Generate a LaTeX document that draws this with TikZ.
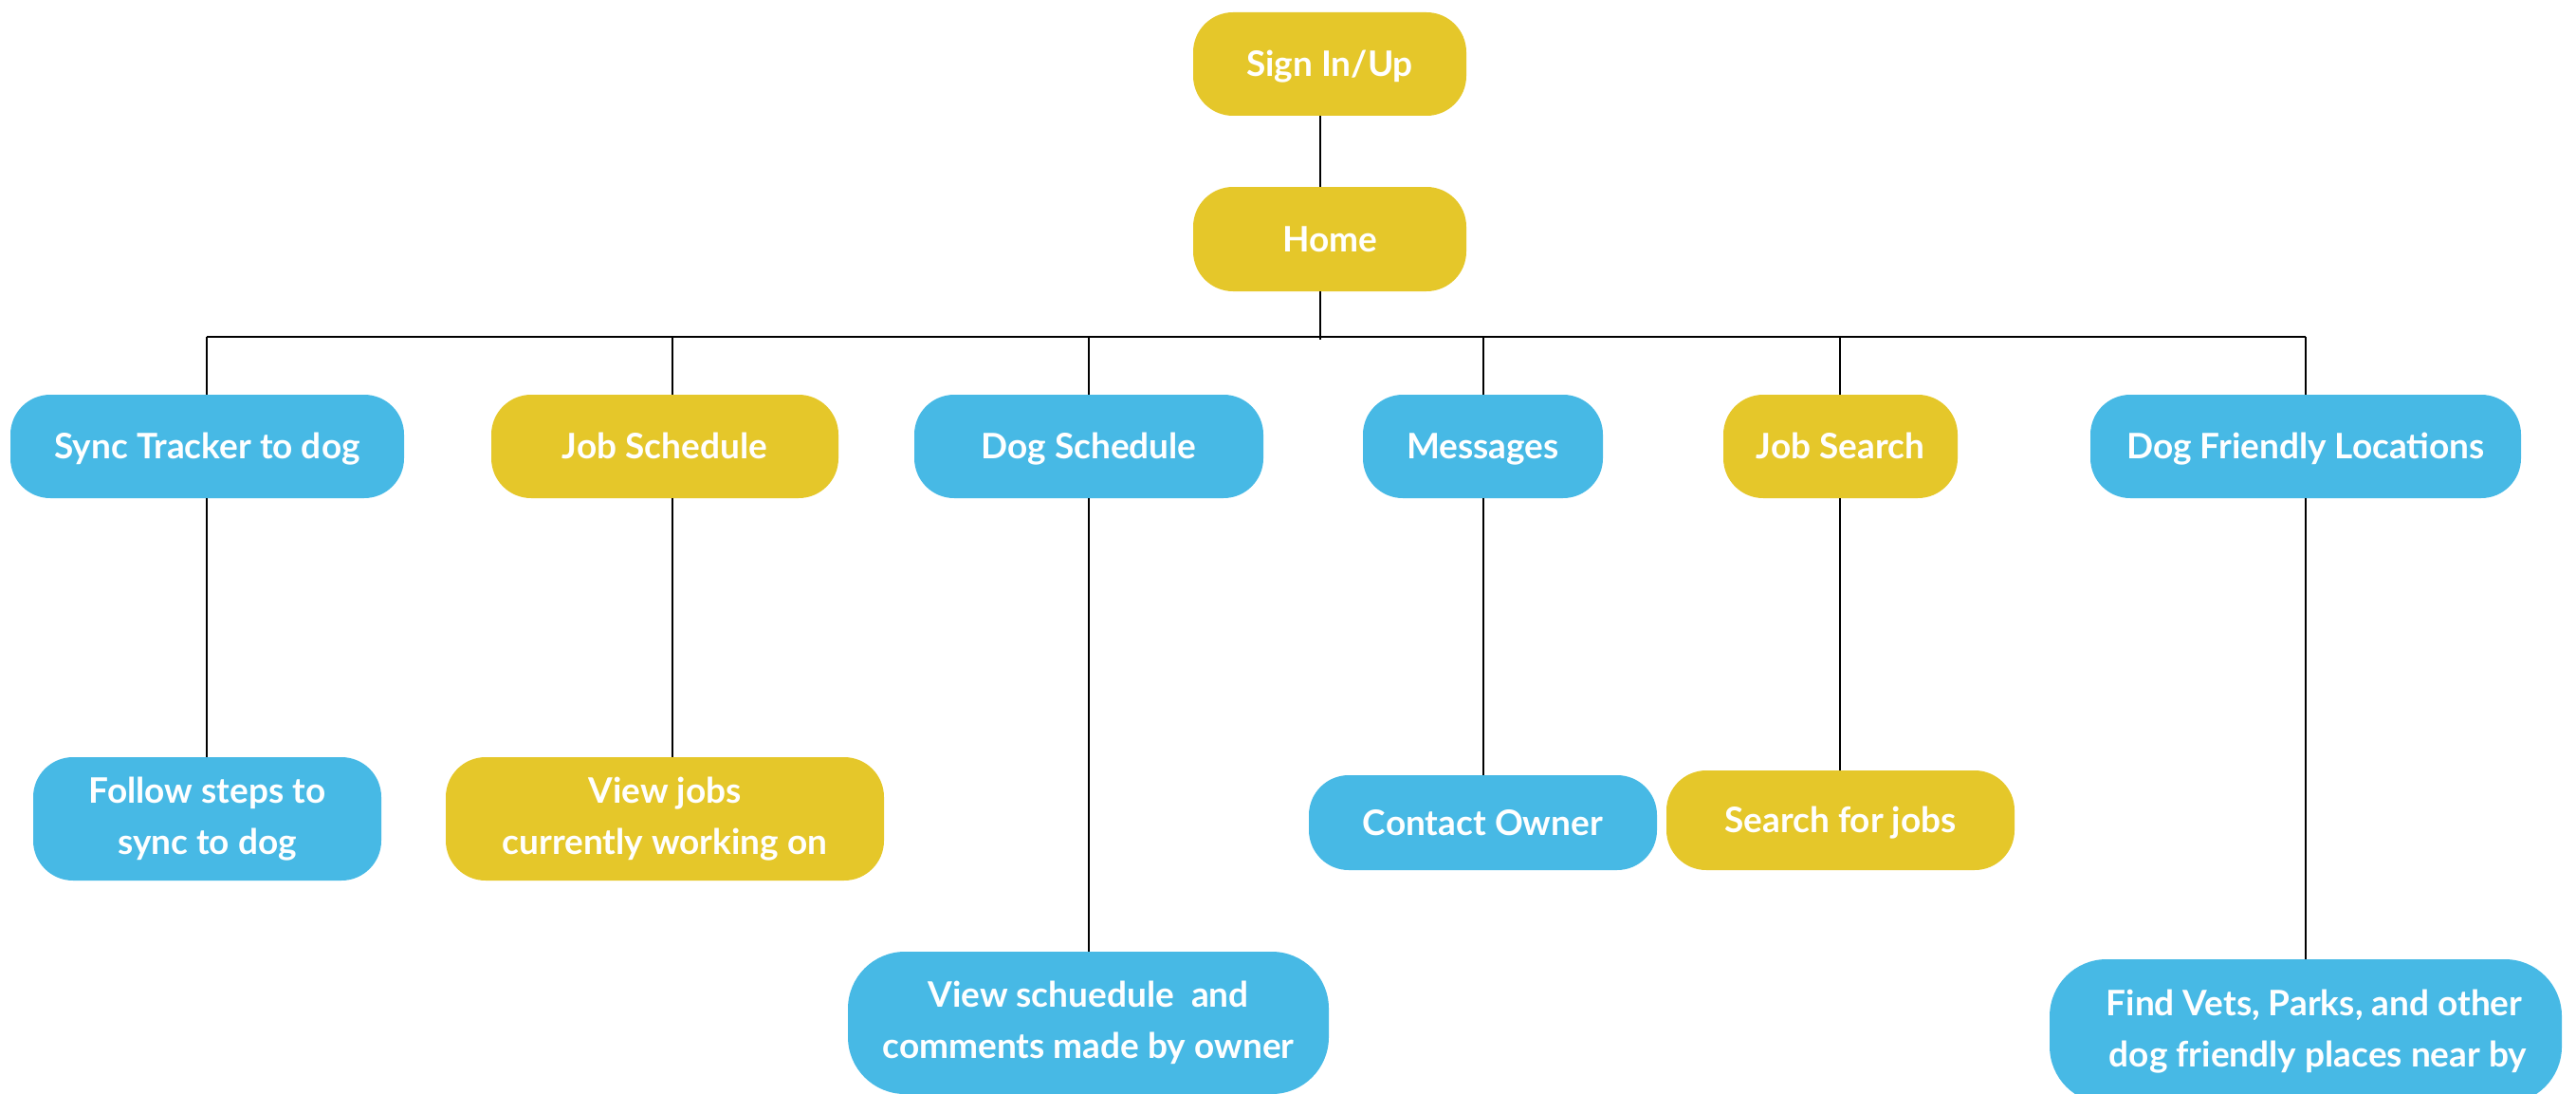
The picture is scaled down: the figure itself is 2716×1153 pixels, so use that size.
\documentclass[tikz,border=0pt]{standalone}
\usepackage{fontspec}
\setmainfont{Lato}
\definecolor{boxblue}{HTML}{47B9E5}
\definecolor{boxyellow}{HTML}{E5C72A}
\tikzset{
  base/.style={rectangle, rounded corners=42pt, text=white, align=center, inner sep=0pt,
    font=\fontsize{37}{54}\selectfont\bfseries},
  bluebox/.style={base, fill=boxblue},
  yellowbox/.style={base, fill=boxyellow},
  oneline/.style={text height=26.5pt, text depth=0pt},
  conn/.style={draw=black, line width=2.8pt}
}
\begin{document}
\begin{tikzpicture}[x=1pt,y=-1pt]
\useasboundingbox (0,0) rectangle (2716,1153);
% top
\node[yellowbox, oneline, minimum width=288pt, minimum height=109pt] (signin) at (1402,67.5) {Sign In/Up};
\node[yellowbox, oneline, minimum width=288pt, minimum height=110pt] (home) at (1402,252) {Home};
% level 2
\node[bluebox, oneline, minimum width=415pt, minimum height=109pt] (sync) at (218.5,470.5) {Sync Tracker to dog};
\node[yellowbox, oneline, minimum width=366pt, minimum height=109pt] (jobs) at (701,470.5) {Job Schedule};
\node[bluebox, oneline, minimum width=368pt, minimum height=109pt] (dogsched) at (1148,470.5) {Dog Schedule};
\node[bluebox, oneline, minimum width=253pt, minimum height=109pt] (msgs) at (1563.5,470.5) {Messages};
\node[yellowbox, oneline, minimum width=247pt, minimum height=109pt] (jobsearch) at (1940.5,470.5) {Job Search};
\node[bluebox, oneline, minimum width=454pt, minimum height=109pt] (dogfriendly) at (2431,470.5) {Dog Friendly Locations};
% level 3
\node[bluebox, minimum width=367pt, minimum height=130pt] (follow) at (218.5,863) {Follow steps to\\sync to dog};
\node[yellowbox, minimum width=462pt, minimum height=130pt] (viewjobs) at (701,863) {View jobs\\currently working on};
\node[bluebox, rounded corners=60pt, minimum width=507pt, minimum height=150pt] (viewsched) at (1147.5,1078) {View schuedule\ \ and\\comments made by owner};
\node[bluebox, oneline, minimum width=367pt, minimum height=100pt] (contact) at (1563.5,867) {Contact Owner};
\node[yellowbox, oneline, minimum width=367pt, minimum height=105pt] (searchjobs) at (1940.5,864.5) {Search for jobs};
\node[bluebox, rounded corners=60pt, minimum width=540pt, minimum height=152pt] (findvets) at (2431,1087) {\hspace*{18pt}Find Vets, Parks, and other\\\hspace*{26pt}dog friendly places near by};
% connectors
\coordinate (hx) at (1392,358);
\coordinate (bl) at (218,355);
\coordinate (br) at (2431,355);
\coordinate (b1) at (218,355);
\coordinate (b2) at (709,355);
\coordinate (b3) at (1148,355);
\coordinate (b4) at (1564,355);
\coordinate (b5) at (1940,355);
\coordinate (b6) at (2431,355);
\draw[conn] (signin.south -| hx) -- (home.north -| hx);
\draw[conn] (home.south -| hx) -- (hx);
\draw[conn] (bl) -- (br);
\draw[conn] (b1) -- (sync.north -| b1);
\draw[conn] (b2) -- (jobs.north -| b2);
\draw[conn] (b3) -- (dogsched.north -| b3);
\draw[conn] (b4) -- (msgs.north -| b4);
\draw[conn] (b5) -- (jobsearch.north -| b5);
\draw[conn] (b6) -- (dogfriendly.north -| b6);
\draw[conn] (sync.south -| b1) -- (follow.north -| b1);
\draw[conn] (jobs.south -| b2) -- (viewjobs.north -| b2);
\draw[conn] (dogsched.south -| b3) -- (viewsched.north -| b3);
\draw[conn] (msgs.south -| b4) -- (contact.north -| b4);
\draw[conn] (jobsearch.south -| b5) -- (searchjobs.north -| b5);
\draw[conn] (dogfriendly.south -| b6) -- (findvets.north -| b6);
\end{tikzpicture}
\end{document}
